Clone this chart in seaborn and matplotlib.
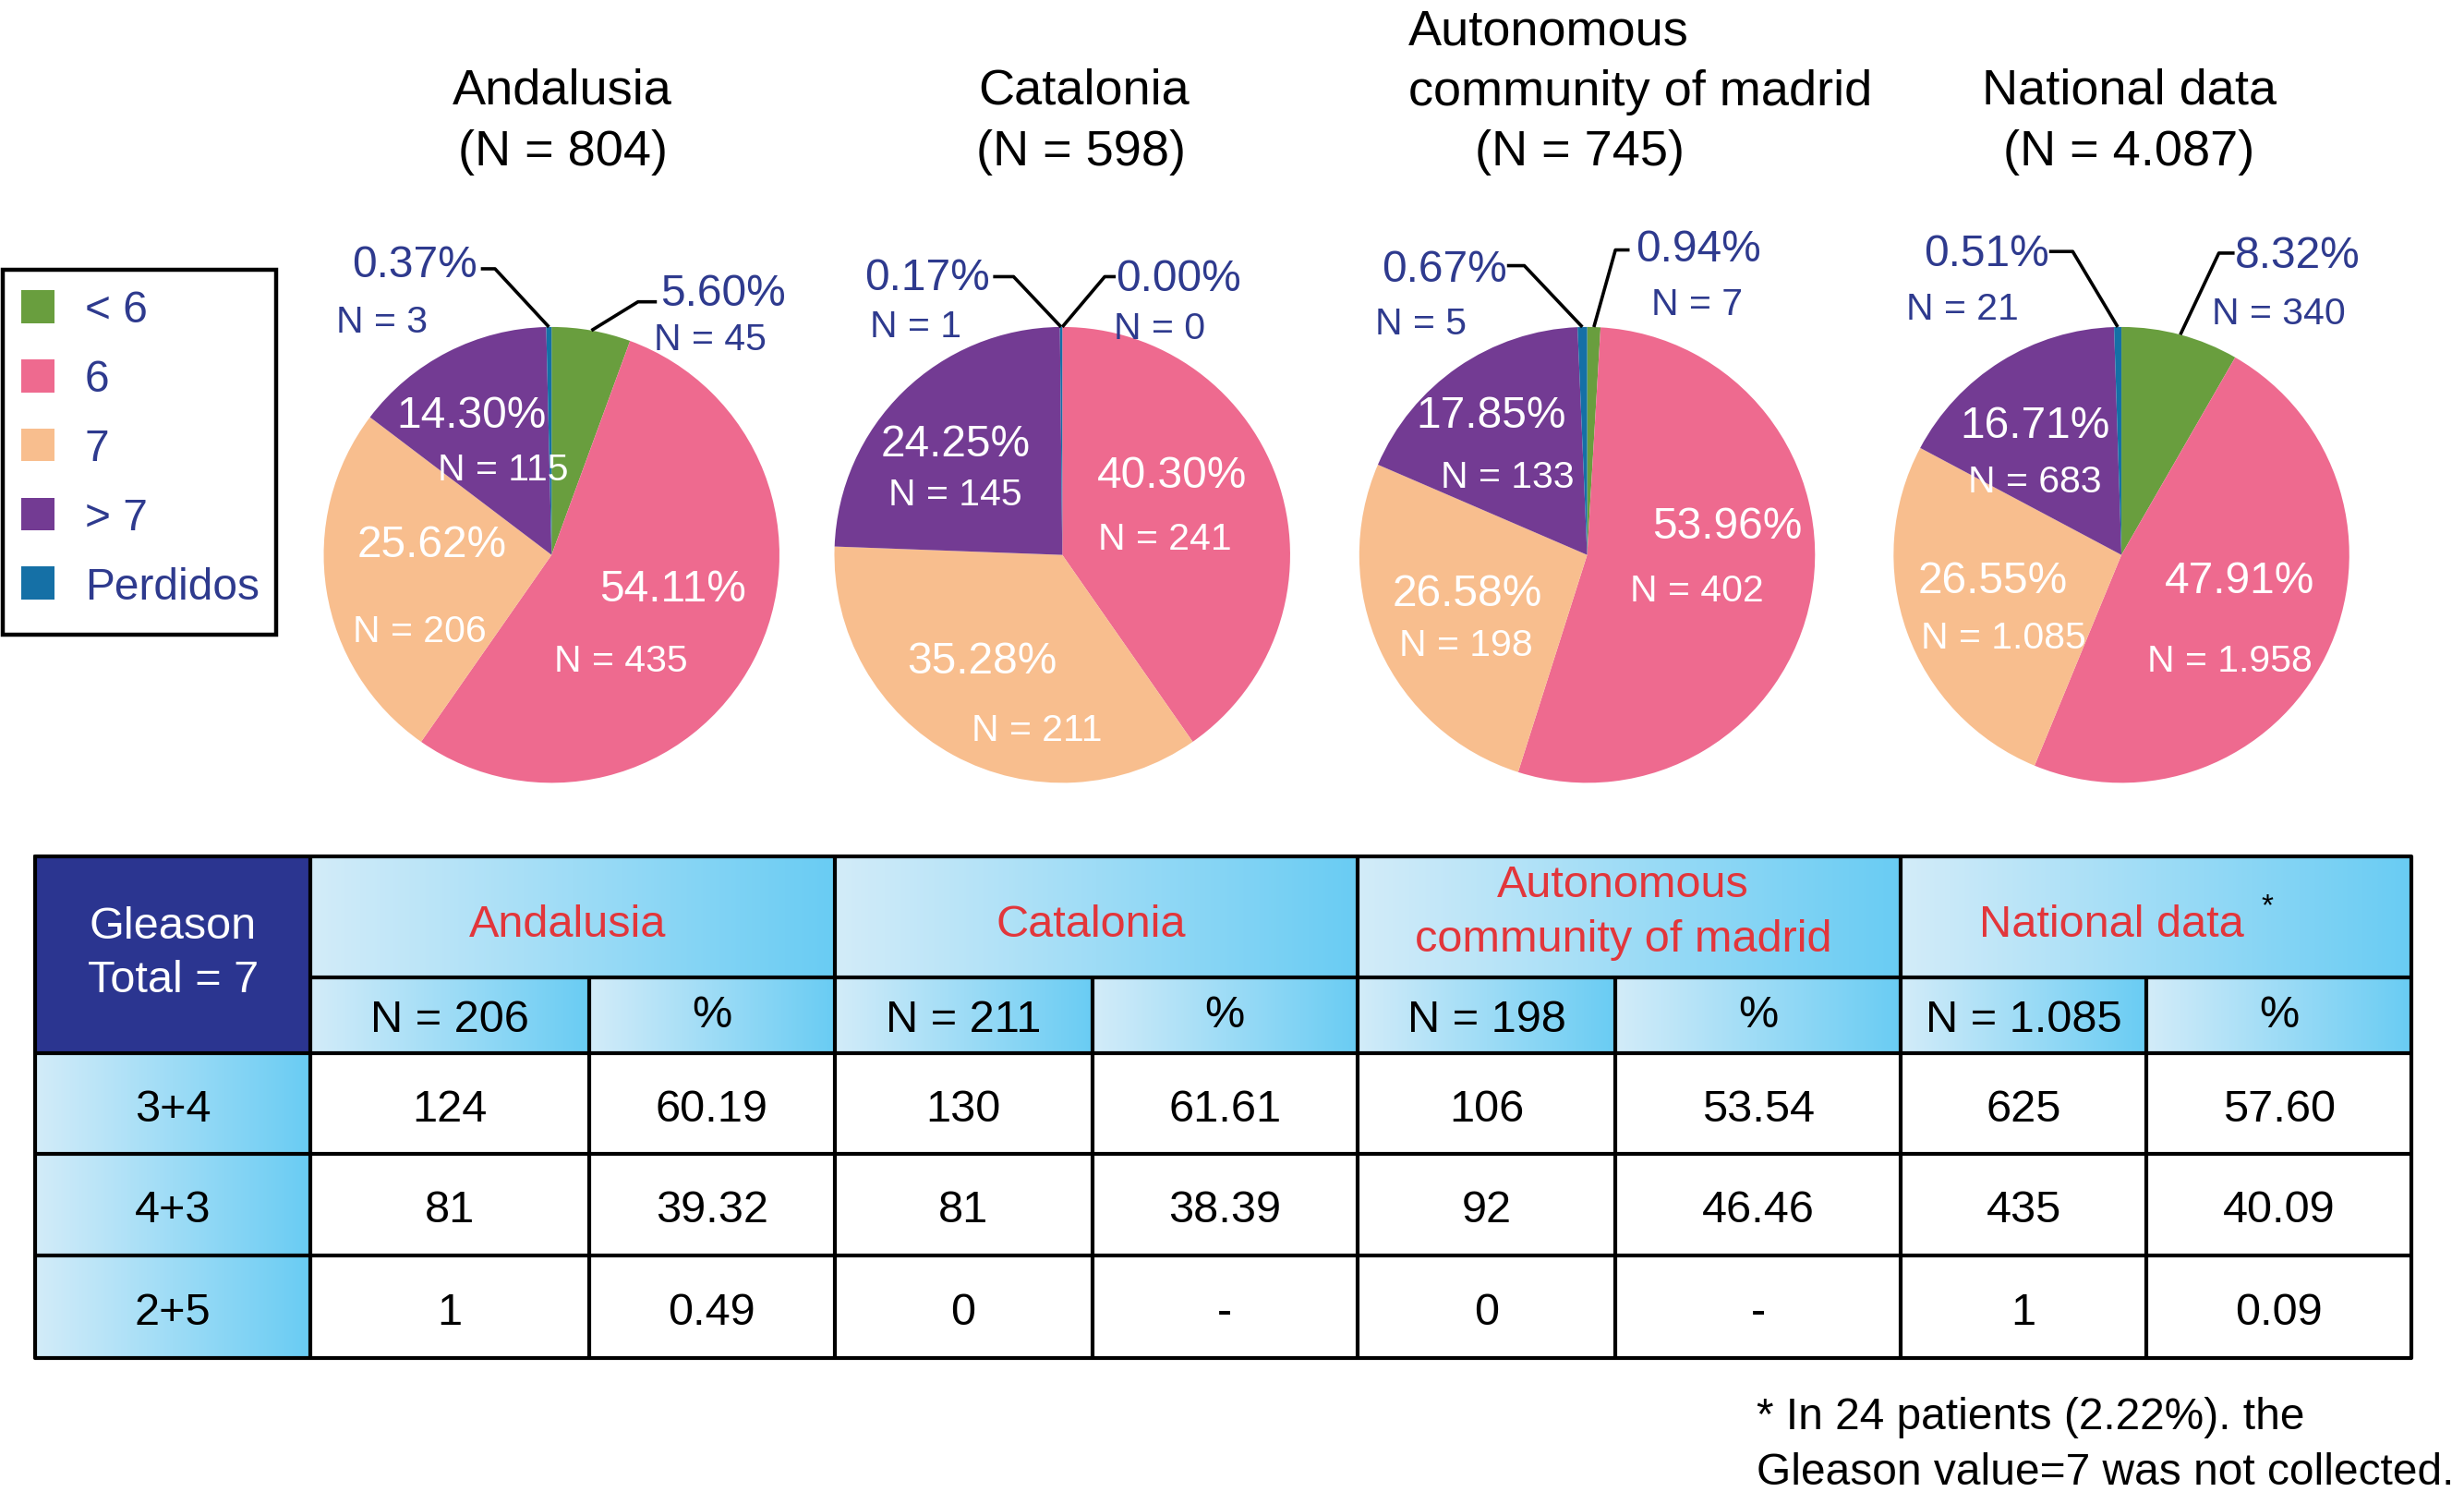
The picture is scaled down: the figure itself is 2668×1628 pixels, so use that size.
import numpy as np
import matplotlib.pyplot as plt
import seaborn as sns

# ---- data ----
categories = ["< 6", "6", "7", "> 7", "Perdidos"]
region_names = ["Andalusia", "Catalonia", "Autonomous\ncommunity of madrid", "National data"]
region_totals = [804, 598, 745, 4087]

andalusia_n = [45, 435, 206, 115, 3]
andalusia_pct = ["5.60%", "54.11%", "25.62%", "14.30%", "0.37%"]
catalonia_n = [0, 241, 211, 145, 1]
catalonia_pct = ["0.00%", "40.30%", "35.28%", "24.25%", "0.17%"]
madrid_n = [7, 402, 198, 133, 5]
madrid_pct = ["0.94%", "53.96%", "26.58%", "17.85%", "0.67%"]
national_n = [340, 1958, 1085, 683, 21]
national_pct = ["8.32%", "47.91%", "26.55%", "16.71%", "0.51%"]

gleason_rows = ["3+4", "4+3", "2+5"]
g7_totals = [206, 211, 198, 1085]
andalusia_g7 = [124, 81, 1]
andalusia_g7_pct = ["60.19", "39.32", "0.49"]
catalonia_g7 = [130, 81, 0]
catalonia_g7_pct = ["61.61", "38.39", "-"]
madrid_g7 = [106, 92, 0]
madrid_g7_pct = ["53.54", "46.46", "-"]
national_g7 = [625, 435, 1]
national_g7_pct = ["57.60", "40.09", "0.09"]

footnote = "* In 24 patients (2.22%). the\nGleason value=7 was not collected."

# ---- style ----
sns.set_theme(style="white")
plt.rcParams['font.family'] = ['Liberation Sans', 'DejaVu Sans']

slice_colors = ["#699e3e", "#ee6a8f", "#f8be8e", "#733b93", "#1570a6"]
navy_text = "#2e3a8e"
header_navy = "#2b3590"
red_text = "#e2363b"
cell_cmap = sns.blend_palette(["#d3ecf9", "#69ccf3"], as_cmap=True)


def fmt_n(v):
    # Spanish thousands separator
    return f"{v:,}".replace(",", ".")


# reference layout units (figure is 2668 x 1628 px)
W = 1568.0
H = 1628 * W / 2668
TEXT_DY = 3  # va="center" sits a bit high for digits/caps
fig = plt.figure(figsize=(26.68, 16.28), dpi=100)

pie_counts = [andalusia_n, catalonia_n, madrid_n, national_n]
pie_pcts = [andalusia_pct, catalonia_pct, madrid_pct, national_pct]

pie_cx = [351, 676, 1010, 1350]
pie_cy = 353
pie_r = 145

pct_pos = [
    [(460, 184), (428, 372), (275, 344), (300, 262), (264, 166)],
    [(750, 175), (746, 300), (625, 418), (608, 280), (590, 174)],
    [(1081, 156), (1099, 332), (934, 375), (949, 262), (919, 169)],
    [(1462, 160), (1425, 367), (1268, 367), (1295, 268), (1264, 159)],
]
n_pos = [
    [(452, 213), (395, 418), (267, 399), (320, 296), (243, 202)],
    [(738, 206), (741, 340), (660, 462), (608, 312), (583, 205)],
    [(1080, 191), (1080, 373), (933, 408), (959, 301), (904, 203)],
    [(1450, 197), (1419, 418), (1275, 403), (1295, 304), (1249, 194)],
]
# short horizontal dash next to the outside labels: (x_text_side, x_elbow, y)
dash_right = [(418, 406, 192), (710, 703, 176), (1037, 1028, 159), (1422, 1412, 161)]
dash_left = [(306, 315, 171), (632, 645, 176), (959, 970, 169), (1304, 1319, 160)]

# pies
for i, counts in enumerate(pie_counts):
    cx = pie_cx[i]
    pax = fig.add_axes([(cx - pie_r) / W, 1 - (pie_cy + pie_r) / H,
                        2 * pie_r / W, 2 * pie_r / H])
    pax.pie(counts, colors=slice_colors, startangle=90, counterclock=False,
            radius=1, wedgeprops=dict(linewidth=0))
    pax.set_xlim(-1, 1)
    pax.set_ylim(-1, 1)
    pax.axis('off')

ov = fig.add_axes([0, 0, 1, 1])
ov.set_zorder(10)
ov.patch.set_alpha(0)
ov.set_xlim(0, W)
ov.set_ylim(H, 0)
ov.axis('off')


def put(x, y, s, size=35, color="black", ha="center"):
    ov.text(x, y + TEXT_DY, s, ha=ha, va="center", fontsize=size, color=color, zorder=6)


# titles above pies
title_lines = [
    [("Andalusia", 358, 55, "center"), (f"(N = {fmt_n(region_totals[0])})", 358, 94, "center")],
    [("Catalonia", 690, 55, "center"), (f"(N = {fmt_n(region_totals[1])})", 688, 94, "center")],
    [(region_names[2].split("\n")[0], 896, 17, "left"),
     (region_names[2].split("\n")[1], 896, 56, "left"),
     (f"(N = {fmt_n(region_totals[2])})", 1005, 94, "center")],
    [("National data", 1355, 55, "center"), (f"(N = {fmt_n(region_totals[3])})", 1355, 94, "center")],
]
for lines in title_lines:
    for txt, x, y, ha in lines:
        put(x, y, txt, size=39, ha=ha)

# slice labels and leader lines
for i, counts in enumerate(pie_counts):
    total = sum(counts)
    cum = np.cumsum([0] + counts[:-1])
    for k, v in enumerate(counts):
        outside = k in (0, 4)
        col = navy_text if outside else "white"
        px, py = pct_pos[i][k]
        nx, ny = n_pos[i][k]
        put(px, py, pie_pcts[i][k], size=34.5, color=col)
        put(nx, ny, f"N = {fmt_n(v)}", size=29.5, color=col)
        if outside:
            ang = np.deg2rad(90 - 360 * (cum[k] + v / 2) / total)
            ex = pie_cx[i] + pie_r * np.cos(ang)
            ey = pie_cy - pie_r * np.sin(ang)
            a, b, y = dash_right[i] if k == 0 else dash_left[i]
            ov.plot([a, b, ex], [y, y, ey], color="black", lw=2.6,
                    solid_capstyle="butt", zorder=5)

# legend box
ov.add_patch(plt.Rectangle((1.5, 171.5), 174, 232, fill=False, ec="black", lw=3.2, zorder=5))
for k, name in enumerate(categories):
    yy = 195 + 44 * k
    ov.add_patch(plt.Rectangle((13.5, yy - 10.5), 21, 21, color=slice_colors[k], lw=0, zorder=5))
    put(54, yy, name, size=34.5, color=navy_text, ha="left")

# ---- table ----
col_x = [22.5, 197.5, 375, 531, 695, 864, 1028, 1209.5, 1366, 1534.5]
row_y = [545, 622, 670, 734, 798.5, 864]
grad = np.linspace(0, 1, 256).reshape(1, -1)


def grad_cell(x0, x1, y0, y1):
    ov.imshow(grad, cmap=cell_cmap, extent=(x0, x1, y1, y0), aspect="auto",
              interpolation="bicubic", zorder=1)


# Gleason header
ov.add_patch(plt.Rectangle((col_x[0], row_y[0]), col_x[1] - col_x[0], row_y[2] - row_y[0],
                           color=header_navy, lw=0, zorder=1))
put((col_x[0] + col_x[1]) / 2, 586.5, "Gleason", color="white")
put((col_x[0] + col_x[1]) / 2, 621, "Total = 7", color="white")

g7_counts = [andalusia_g7, catalonia_g7, madrid_g7, national_g7]
g7_pcts = [andalusia_g7_pct, catalonia_g7_pct, madrid_g7_pct, national_g7_pct]

for j in range(4):
    x0, xm, x1 = col_x[1 + 2 * j], col_x[2 + 2 * j], col_x[3 + 2 * j]
    grad_cell(x0, x1, row_y[0], row_y[1])
    grad_cell(x0, xm, row_y[1], row_y[2])
    grad_cell(xm, x1, row_y[1], row_y[2])
    hx = (x0 + x1) / 2
    if j == 2:
        top, bottom = region_names[j].split("\n")
        put(hx - 4, 560.5, top, color=red_text)
        put(hx - 4, 595, bottom, color=red_text)
    elif j == 3:
        put(hx - 28, 585.5, region_names[j], color=red_text)
        put(1443, 574, "*", size=24)
    else:
        put(hx - 3, 585.5, region_names[j], color=red_text)
    put((x0 + xm) / 2, 646, f"N = {fmt_n(g7_totals[j])}")
    put((xm + x1) / 2, 643, "%")
    for r in range(3):
        yc = (row_y[2 + r] + row_y[3 + r]) / 2 + 1
        put((x0 + xm) / 2, yc, str(g7_counts[j][r]))
        put((xm + x1) / 2, yc, g7_pcts[j][r])

for r, lab in enumerate(gleason_rows):
    grad_cell(col_x[0], col_x[1], row_y[2 + r], row_y[3 + r])
    put((col_x[0] + col_x[1]) / 2, (row_y[2 + r] + row_y[3 + r]) / 2 + 1, lab)

# grid lines
lw = 3
ov.plot([col_x[0], col_x[-1], col_x[-1], col_x[0], col_x[0]],
        [row_y[0], row_y[0], row_y[-1], row_y[-1], row_y[0]], color="black", lw=lw, zorder=4)
ov.plot([col_x[1], col_x[-1]], [row_y[1], row_y[1]], color="black", lw=lw, zorder=4)
for y in row_y[2:-1]:
    ov.plot([col_x[0], col_x[-1]], [y, y], color="black", lw=lw, zorder=4)
for k, x in enumerate(col_x[1:-1], start=1):
    y_start = row_y[0] if k % 2 == 1 else row_y[1]
    ov.plot([x, x], [y_start, row_y[-1]], color="black", lw=lw, zorder=4)

# footnote
for k, line in enumerate(footnote.split("\n")):
    put(1118, 899 + 35 * k, line, size=34.5, ha="left")

ov.set_xlim(0, W)
ov.set_ylim(H, 0)
fig.savefig("out.png", dpi=100)
plt.close(fig)
